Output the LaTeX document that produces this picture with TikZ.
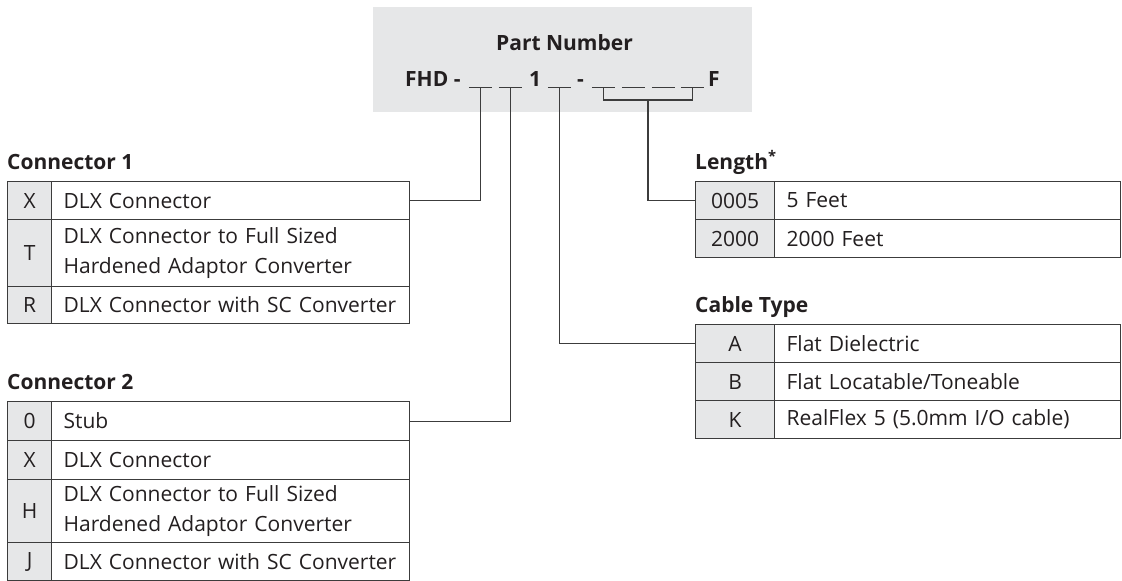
\documentclass[tikz,border=0pt]{standalone}
\usepackage{fontspec}
\setmainfont{Open Sans}
\usetikzlibrary{calc}
\definecolor{ink}{HTML}{231F20}
\definecolor{rule}{HTML}{3C3C3C}
\definecolor{cellgray}{HTML}{E6E7E8}
\definecolor{boxgray}{HTML}{E6E7E8}
\tikzset{
  every node/.style={text=ink, font=\fontsize{21}{30}\selectfont},
  codecell/.style={draw=rule, fill=cellgray, line width=1.2pt, inner sep=0pt, anchor=north west, align=center},
  desccell/.style={draw=rule, fill=white, line width=1.2pt, inner xsep=12pt, inner ysep=0pt, anchor=north west, align=left},
  ttl/.style={font=\bfseries\fontsize{21}{25}\selectfont, anchor=base west, inner sep=0pt},
  pn/.style={font=\bfseries\fontsize{21}{25}\selectfont, anchor=base west, inner sep=0pt},
  blank/.style={minimum width=23pt, minimum height=0pt, inner sep=0pt},
  wire/.style={draw=rule, line width=1.2pt},
  uline/.style={draw=rule, line width=1pt},
}
\begin{document}
\begin{tikzpicture}[x=1pt, y=-1pt]
\path[use as bounding box] (0,0) rectangle (1122,581);

% Part number box
\node[fill=boxgray, minimum width=379pt, minimum height=105pt, anchor=north west, inner sep=0pt] (pnbox) at (373,7) {};
\node[font=\bfseries\fontsize{21}{25}\selectfont, anchor=base, inner sep=0pt] (pntitle) at (564.5,50) {Part Number};
\node[pn] (fhd) at (405,86) {FHD -};
\node[pn] (one) at (529,86) {1};
\node[pn] (dash) at (577,86) {-};
\node[pn] (ff) at (708,86) {F};
\node[blank] (b1) at (480.5,87) {};
\node[blank] (b2) at (510.5,87) {};
\node[blank] (b3) at (559.5,87) {};
\node[blank] (b4) at (603.5,87) {};
\node[blank] (b5) at (633.5,87) {};
\node[blank] (b6) at (663.5,87) {};
\node[blank] (b7) at (692.5,87) {};
\foreach \b in {b1,b2,b3,b4,b5,b6,b7}{\draw[uline] (\b.west) -- (\b.east);}

% Connector 1
\node[ttl] (t1) at (7,169) {Connector 1};
\node[codecell, minimum width=44pt, minimum height=38pt] (c1a) at (7,181) {X};
\node[desccell, text width=334pt, minimum height=38pt] (d1a) at (51,181) {DLX Connector};
\node[codecell, minimum width=44pt, minimum height=67pt] (c1b) at (7,219) {T};
\node[desccell, text width=334pt, minimum height=67pt] (d1b) at (51,219) {DLX Connector to Full Sized\\Hardened Adaptor Converter};
\node[codecell, minimum width=44pt, minimum height=37pt] (c1c) at (7,286) {R};
\node[desccell, text width=334pt, minimum height=37pt] (d1c) at (51,286) {DLX Connector with SC Converter};

% Connector 2
\node[ttl] (t2) at (7,389) {Connector 2};
\node[codecell, minimum width=44pt, minimum height=39pt] (c2a) at (7,401) {0};
\node[desccell, text width=334pt, minimum height=39pt] (d2a) at (51,401) {Stub};
\node[codecell, minimum width=44pt, minimum height=39pt] (c2b) at (7,440) {X};
\node[desccell, text width=334pt, minimum height=39pt] (d2b) at (51,440) {DLX Connector};
\node[codecell, minimum width=44pt, minimum height=63pt] (c2c) at (7,479) {H};
\node[desccell, text width=334pt, minimum height=63pt] (d2c) at (51,479) {DLX Connector to Full Sized\\Hardened Adaptor Converter};
\node[codecell, minimum width=44pt, minimum height=38pt] (c2d) at (7,542) {J};
\node[desccell, text width=334pt, minimum height=38pt] (d2d) at (51,542) {DLX Connector with SC Converter};

% Length
\node[ttl] (t3) at (695,169) {Length\textsuperscript{*}};
\node[codecell, minimum width=79pt, minimum height=38pt] (la) at (695,181) {0005};
\node[desccell, text width=322pt, minimum height=38pt] (lda) at (774,181) {5 Feet};
\node[codecell, minimum width=79pt, minimum height=38pt] (lb) at (695,219) {2000};
\node[desccell, text width=322pt, minimum height=38pt] (ldb) at (774,219) {2000 Feet};

% Cable type
\node[ttl] (t4) at (695,312) {Cable Type};
\node[codecell, minimum width=79pt, minimum height=38pt] (ca) at (695,324) {A};
\node[desccell, text width=322pt, minimum height=38pt] (cda) at (774,324) {Flat Dielectric};
\node[codecell, minimum width=79pt, minimum height=38pt] (cb) at (695,362) {B};
\node[desccell, text width=322pt, minimum height=38pt] (cdb) at (774,362) {Flat Locatable/Toneable};
\node[codecell, minimum width=79pt, minimum height=38pt] (cc) at (695,400) {K};
\node[desccell, text width=322pt, minimum height=38pt] (cdc) at (774,400) {RealFlex 5 (5.0mm I/O cable)};

% Leader lines
\draw[wire] (b1.center) |- (d1a.east);
\draw[wire] (b2.center) |- (d2a.east);
\draw[wire] (b3.center) |- (ca.west);
\draw[wire] (b4.center) -- ++(0,13) -| (b7.center);
\coordinate (bm) at ($(b4.center)!0.5!(b7.center)+(0,13)$);
\draw[wire] (bm) |- (la.west);
\end{tikzpicture}
\end{document}
